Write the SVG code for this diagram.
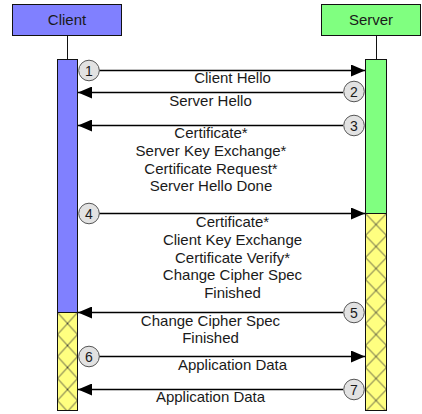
<svg xmlns="http://www.w3.org/2000/svg" width="422" height="414" viewBox="0 0 422 414">
<style>
text{font-family:"Liberation Sans",Arial,sans-serif;font-size:15px;fill:#1a1a1a;text-anchor:middle}
.box{stroke:#111;stroke-width:1}
.life{stroke:#111;stroke-width:1}
.msg{stroke:#000;stroke-width:1.3;fill:none}
.num{fill:#e2e2e2;stroke:#555;stroke-width:1}
.numt{font-size:14px}
.hatch{stroke:#333;stroke-width:0.9}
</style>
<defs>
<marker id="ah" viewBox="0 0 14 12" refX="14" refY="6" markerWidth="14" markerHeight="12" markerUnits="userSpaceOnUse" orient="auto">
<path d="M0 0 L14 6 L0 12 Z" fill="#000"/>
</marker>
<pattern id="hs" patternUnits="userSpaceOnUse" x="365.5" y="213.5" width="21" height="22">
<rect width="21" height="22" fill="#ffff80"/>
<path class="hatch" d="M0 0 L21 22 M21 0 L0 22"/>
</pattern>
<pattern id="hc" patternUnits="userSpaceOnUse" x="57.5" y="312.5" width="20" height="22">
<rect width="20" height="22" fill="#ffff80"/>
<path class="hatch" d="M0 0 L20 22 M20 0 L0 22"/>
</pattern>
</defs>
<rect width="422" height="414" fill="#fff"/>

<g id="client">
<rect class="box" x="12.5" y="4.5" width="109" height="31" fill="#8080ff"/>
<text x="67" y="25">Client</text>
<line class="life" x1="67.5" y1="35.5" x2="67.5" y2="59.5"/>
<rect class="box" x="57.5" y="59.5" width="20" height="253" fill="#8080ff"/>
<rect class="box" x="57.5" y="312.5" width="20" height="98" fill="url(#hc)"/>
</g>

<g id="server">
<rect class="box" x="321.5" y="4.5" width="99" height="31" fill="#80ff80"/>
<text x="371" y="25">Server</text>
<line class="life" x1="376.5" y1="35.5" x2="376.5" y2="59.5"/>
<rect class="box" x="365.5" y="59.5" width="21" height="154" fill="#80ff80"/>
<rect class="box" x="365.5" y="213.5" width="21" height="197" fill="url(#hs)"/>
</g>

<g id="connectors">
<line class="msg" x1="99" y1="70.5" x2="365" y2="70.5" marker-end="url(#ah)"/>
<line class="msg" x1="343" y1="92.5" x2="78" y2="92.5" marker-end="url(#ah)"/>
<line class="msg" x1="343" y1="125.5" x2="78" y2="125.5" marker-end="url(#ah)"/>
<line class="msg" x1="99" y1="213.5" x2="365" y2="213.5" marker-end="url(#ah)"/>
<line class="msg" x1="343" y1="312.5" x2="78" y2="312.5" marker-end="url(#ah)"/>
<line class="msg" x1="99" y1="356.5" x2="365" y2="356.5" marker-end="url(#ah)"/>
<line class="msg" x1="343" y1="389.5" x2="78" y2="389.5" marker-end="url(#ah)"/>
</g>

<g id="m1">
<circle class="num" cx="89" cy="70.5" r="10.3"/>
<text class="numt" x="89" y="75.5">1</text>
<text x="232.5" y="83">Client Hello</text>
</g>
<g id="m2">
<circle class="num" cx="354" cy="91.5" r="10.3"/>
<text class="numt" x="354" y="96.5">2</text>
<text x="210.5" y="105.5">Server Hello</text>
</g>
<g id="m3">
<circle class="num" cx="354" cy="125.5" r="10.3"/>
<text class="numt" x="354" y="130.5">3</text>
<text x="211" y="137.5">Certificate*</text>
<text x="211" y="155.5">Server Key Exchange*</text>
<text x="211" y="173.5">Certificate Request*</text>
<text x="211" y="191">Server Hello Done</text>
</g>
<g id="m4">
<circle class="num" cx="89" cy="213.5" r="10.3"/>
<text class="numt" x="89" y="218.5">4</text>
<text x="232.5" y="226.5">Certificate*</text>
<text x="232.5" y="244.5">Client Key Exchange</text>
<text x="232.5" y="262.5">Certificate Verify*</text>
<text x="232.5" y="280">Change Cipher Spec</text>
<text x="232.5" y="297.5">Finished</text>
</g>
<g id="m5">
<circle class="num" cx="354" cy="312.5" r="10.3"/>
<text class="numt" x="354" y="317.5">5</text>
<text x="210.5" y="326">Change Cipher Spec</text>
<text x="210.5" y="342.5">Finished</text>
</g>
<g id="m6">
<circle class="num" cx="89" cy="356.5" r="10.3"/>
<text class="numt" x="89" y="361.5">6</text>
<text x="232.5" y="369.5">Application Data</text>
</g>
<g id="m7">
<circle class="num" cx="354" cy="389.5" r="10.3"/>
<text class="numt" x="354" y="394.5">7</text>
<text x="210.5" y="402">Application Data</text>
</g>
</svg>
